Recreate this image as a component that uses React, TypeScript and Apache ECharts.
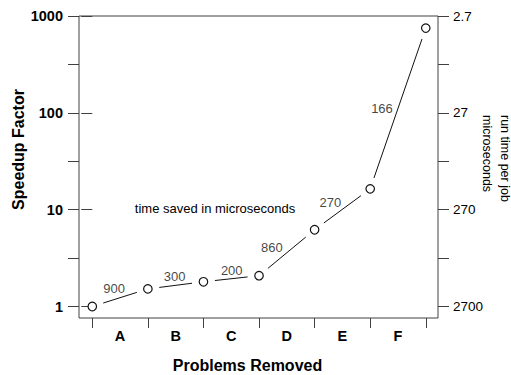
import React, { useEffect, useRef } from 'react';
import * as echarts from 'echarts';

// ---- data ----
const categories = ['A', 'B', 'C', 'D', 'E', 'F'];
const speedup = [1, 1.52, 1.8, 2.08, 6.2, 16.4, 750];
const timeSaved = [900, 300, 200, 860, 270, 166];
const runTimeTickLabels = ['2.7', '27', '270', '2700'];

// ---- styling (label nudges, segment gap in px) ----
const labelOffsets = [[-6, -9.5], [-1, -9], [0.5, -8.5], [-15, -5], [-12, -7], [-16, 0]];
const SEG_GAP = 11.5;

const FONT = "'Liberation Sans', Arial, Helvetica, sans-serif";
const AXIS = '#404040';
const X_MIN = -0.239;
const X_MAX = 6.22;

export default function App() {
  const ref = useRef<HTMLDivElement>(null);

  useEffect(() => {
    const chart = echarts.init(ref.current!, null, { renderer: 'svg' });
    const points = speedup.map((v, i) => [i, v]);
    const segments = timeSaved.map((_, i) => [i, speedup[i], i + 1, speedup[i + 1]]);
    const mids = timeSaved.map((t, i) => ({
      name: String(t),
      value: [i + 0.5, Math.sqrt(speedup[i] * speedup[i + 1])],
      label: { offset: labelOffsets[i] },
    }));
    const tickPositions = speedup.map((_, i) => i);
    const labelPositions = categories.map((_, i) => i + 0.5);

    chart.setOption({
      animation: false,
      backgroundColor: '#ffffff',
      textStyle: { fontFamily: FONT },
      grid: [
        { left: 79, right: 73, top: 16, bottom: 68.5 },
        { left: 79, right: 73, top: 16, bottom: 57, show: true, borderColor: AXIS, borderWidth: 1, backgroundColor: 'transparent' },
      ],
      xAxis: [
        { gridIndex: 0, type: 'value', min: X_MIN, max: X_MAX, show: false },
        {
          gridIndex: 1, type: 'value', min: X_MIN, max: X_MAX,
          axisLine: { show: false },
          splitLine: { show: false },
          axisTick: { show: true, customValues: tickPositions, length: 10, lineStyle: { color: AXIS, width: 1 } },
          axisLabel: {
            customValues: labelPositions,
            formatter: (v: number) => categories[Math.floor(v)] ?? '',
            margin: 10, color: '#000', fontWeight: 'bold', fontSize: 14.5, fontFamily: FONT,
          },
        },
      ],
      yAxis: [
        {
          gridIndex: 0, type: 'log', logBase: 10, min: 1, max: 1000, position: 'left',
          axisLine: { show: false }, splitLine: { show: false },
          axisTick: { show: true, length: 11, lineStyle: { color: AXIS, width: 1 } },
          axisLabel: {
            margin: 16, color: '#000', fontWeight: 'bold', fontSize: 14.5, fontFamily: FONT,
            formatter: (v: number) => String(Math.round(v)),
          },
        },
        {
          gridIndex: 0, type: 'value', min: 0, max: 3, interval: 0.5, position: 'left',
          axisLine: { show: false }, splitLine: { show: false },
          axisTick: { show: true, length: 11, lineStyle: { color: AXIS, width: 1 } },
          axisLabel: { show: false },
        },
        {
          gridIndex: 0, type: 'value', min: 0, max: 3, interval: 0.5, inverse: true, position: 'right',
          axisLine: { show: false }, splitLine: { show: false },
          axisTick: { show: true, length: 11, lineStyle: { color: AXIS, width: 1 } },
          axisLabel: {
            margin: 15, color: '#000', fontSize: 13.5, fontFamily: FONT,
            formatter: (v: number) => (Number.isInteger(v) ? runTimeTickLabels[v] ?? '' : ''),
          },
        },
        { gridIndex: 1, type: 'value', min: 0, max: 1, show: false },
      ],
      series: [
        {
          type: 'custom', xAxisIndex: 0, yAxisIndex: 0, data: segments, z: 2, clip: false, silent: true,
          encode: { x: [0, 2], y: [1, 3] },
          renderItem: (params: any, api: any) => {
            const a = api.coord([api.value(0), api.value(1)]);
            const b = api.coord([api.value(2), api.value(3)]);
            const dx = b[0] - a[0];
            const dy = b[1] - a[1];
            const len = Math.sqrt(dx * dx + dy * dy) || 1;
            const ux = dx / len;
            const uy = dy / len;
            return {
              type: 'line',
              shape: {
                x1: a[0] + ux * SEG_GAP, y1: a[1] + uy * SEG_GAP,
                x2: b[0] - ux * SEG_GAP, y2: b[1] - uy * SEG_GAP,
              },
              style: { stroke: '#111', lineWidth: 1 },
            };
          },
        },
        {
          type: 'scatter', xAxisIndex: 0, yAxisIndex: 0, data: points, symbol: 'circle', symbolSize: 8.5,
          itemStyle: { color: '#ffffff', borderColor: '#111', borderWidth: 1.2, opacity: 1 }, z: 4, clip: false,
        },
        {
          type: 'scatter', xAxisIndex: 0, yAxisIndex: 0, data: mids, symbolSize: 0, z: 5, clip: false, silent: true,
          label: {
            show: true, position: 'inside', formatter: (p: any) => p.name,
            color: '#111', fontSize: 13, fontFamily: FONT,
          },
        },
      ],
      graphic: [
        {
          type: 'text', x: 18, y: 149.5, rotation: Math.PI / 2,
          style: { text: 'Speedup Factor', font: `bold 16px ${FONT}`, fill: '#000', align: 'center', verticalAlign: 'middle', textAlign: 'center', textVerticalAlign: 'middle' },
        },
        {
          type: 'text', x: 247.5, y: 365,
          style: { text: 'Problems Removed', font: `bold 16px ${FONT}`, fill: '#000', align: 'center', verticalAlign: 'middle', textAlign: 'center', textVerticalAlign: 'middle' },
        },
        {
          type: 'text', x: 215, y: 208,
          style: { text: 'time saved in microseconds', font: `13px ${FONT}`, fill: '#000', align: 'center', verticalAlign: 'middle', textAlign: 'center', textVerticalAlign: 'middle' },
        },
        {
          type: 'text', x: 496, y: 115, rotation: -Math.PI / 2,
          style: { text: 'run time per job\nmicroseconds', font: `12.5px ${FONT}`, lineHeight: 18, fill: '#000', align: 'left', verticalAlign: 'middle', textAlign: 'left', textVerticalAlign: 'middle' },
        },
      ],
    });
    return () => chart.dispose();
  }, []);

  return (
    <div
      ref={ref}
      style={{ position: 'fixed', left: 0, top: 0, width: 511, height: 375, background: '#fff' }}
    />
  );
}
